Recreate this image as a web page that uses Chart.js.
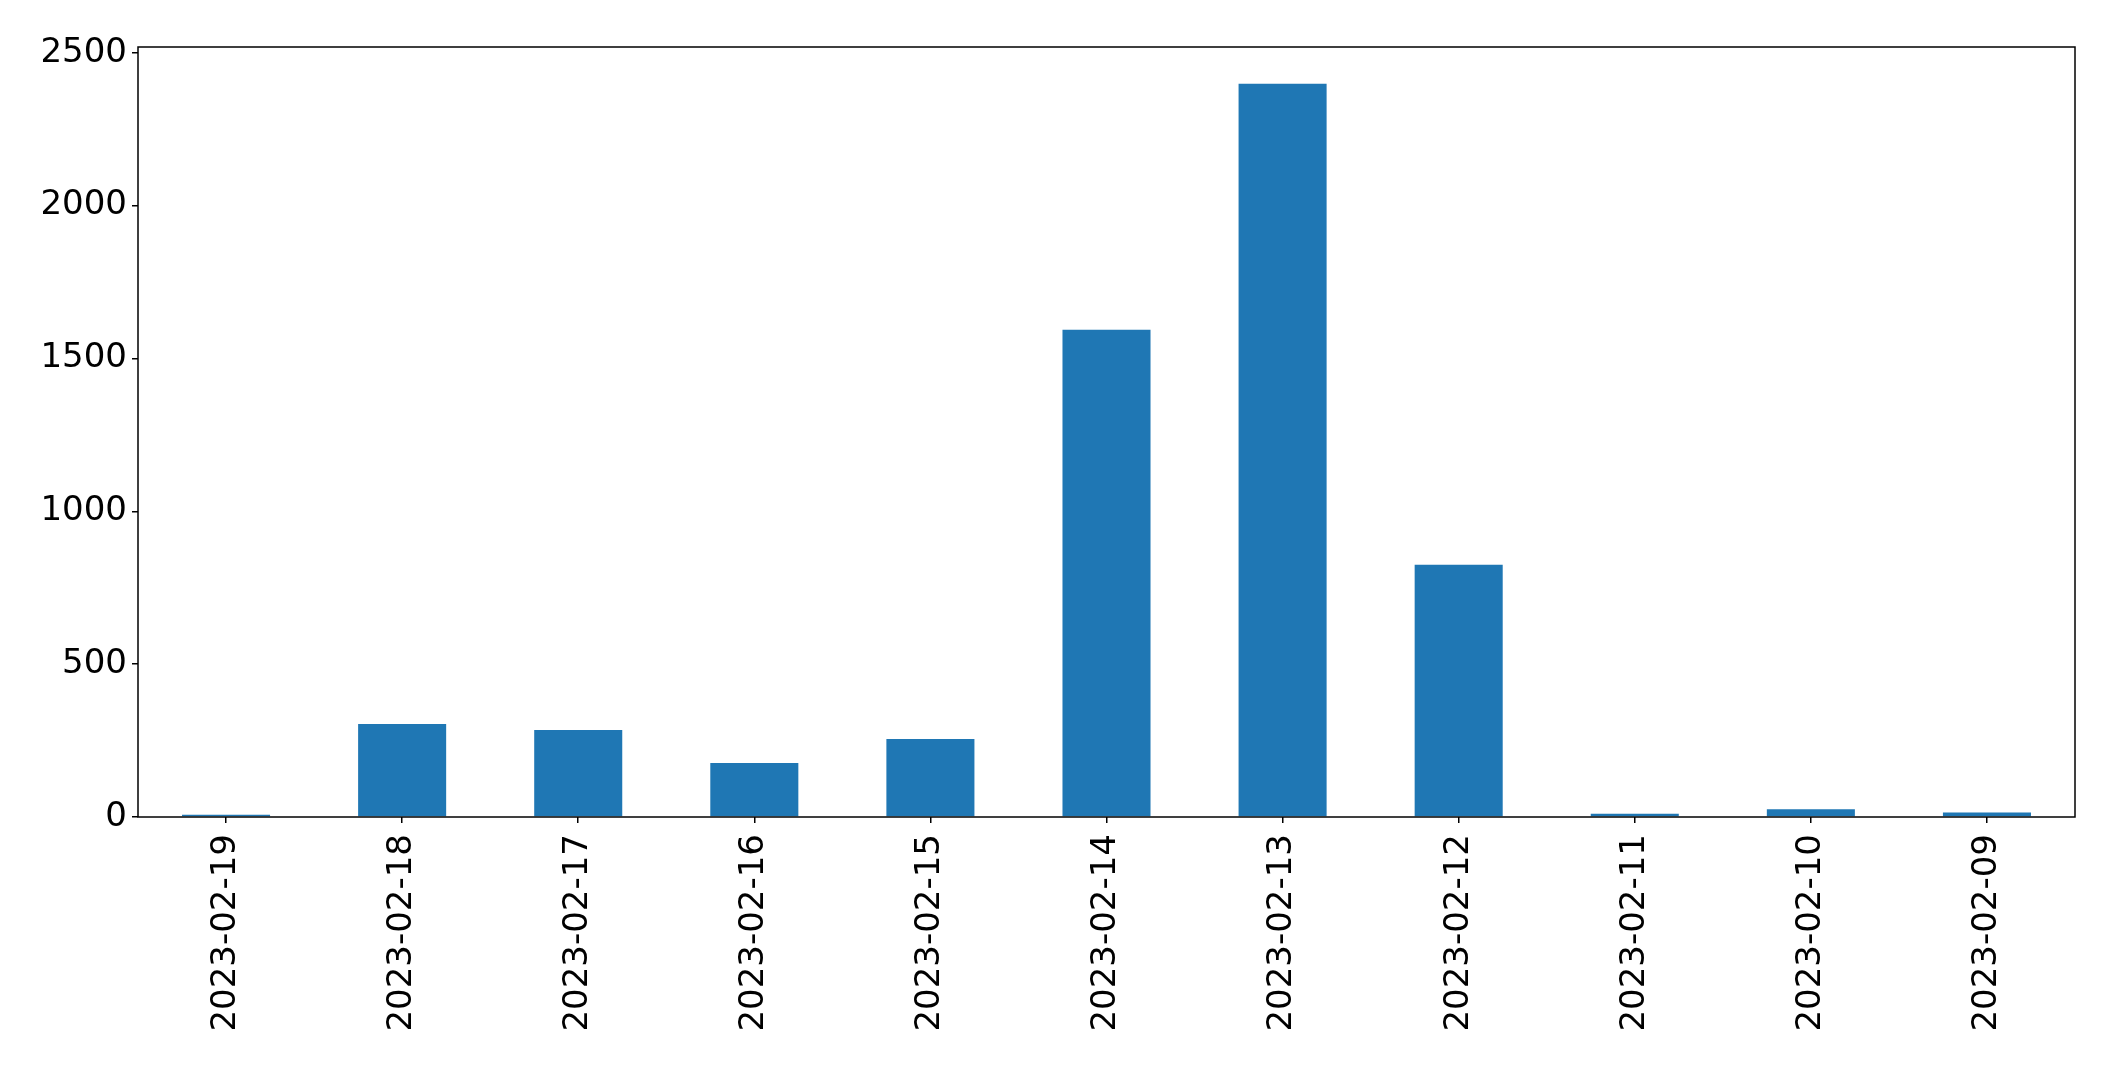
<!DOCTYPE html>
<html>
<head>
<meta charset="utf-8">
<script src="https://cdn.jsdelivr.net/npm/chart.js@4/dist/chart.umd.min.js"></script>
<style>
  html, body { margin: 0; padding: 0; background: #fff; }
</style>
</head>
<body>
<canvas id="chart" width="2115" height="1069"></canvas>
<script>
const dates = [`2023-02-19`, `2023-02-18`, `2023-02-17`, `2023-02-16`, `2023-02-15`, `2023-02-14`,
  `2023-02-13`, `2023-02-12`, `2023-02-11`, `2023-02-10`, `2023-02-09`];
const counts = [7, 304, 285, 177, 255, 1594, 2399, 825, 11, 25, 15];
const yTicks = [0, 500, 1000, 1500, 2000, 2500];

// frame round the plot area, like matplotlib's spines
const frameBox = {
  id: `frameBox`,
  afterDraw(chart) {
    const {ctx, chartArea: a} = chart;
    ctx.save();
    ctx.strokeStyle = `#000`;
    ctx.lineWidth = 1.5;
    ctx.strokeRect(a.left, a.top, a.right - a.left, a.bottom - a.top);
    ctx.restore();
  }
};

const font = {family: `'DejaVu Sans'`, size: 34};

// eslint-disable-next-line no-unused-vars
const chart = new Chart(document.getElementById(`chart`), {
  type: `bar`,
  data: {
    labels: dates,
    datasets: [{
      data: counts,
      backgroundColor: `#1f77b4`,
      borderWidth: 0,
      categoryPercentage: 1,
      barPercentage: 0.5
    }]
  },
  options: {
    responsive: false,
    animation: false,
    layout: {padding: {top: 47, right: 40, left: 0, bottom: 0}},
    plugins: {
      legend: {display: false},
      tooltip: {enabled: false}
    },
    scales: {
      x: {
        grid: {offset: false, drawOnChartArea: false, drawTicks: true, tickLength: 6, color: `#000`, lineWidth: 1.5},
        border: {display: false},
        ticks: {font, color: `#000`, minRotation: 90, maxRotation: 90, padding: 11, autoSkip: false},
        afterFit(scale) { scale.height = 252; }
      },
      y: {
        min: 0,
        max: 2519,
        grid: {drawOnChartArea: false, drawTicks: true, tickLength: 6, color: `#000`, lineWidth: 1.5},
        border: {display: false},
        ticks: {font, color: `#000`, padding: 5, callback: v => String(v)},
        afterBuildTicks(scale) { scale.ticks = yTicks.map(v => ({value: v})); },
        afterFit(scale) { scale.width = 138; }
      }
    }
  },
  plugins: [frameBox]
});
</script>
</body>
</html>
